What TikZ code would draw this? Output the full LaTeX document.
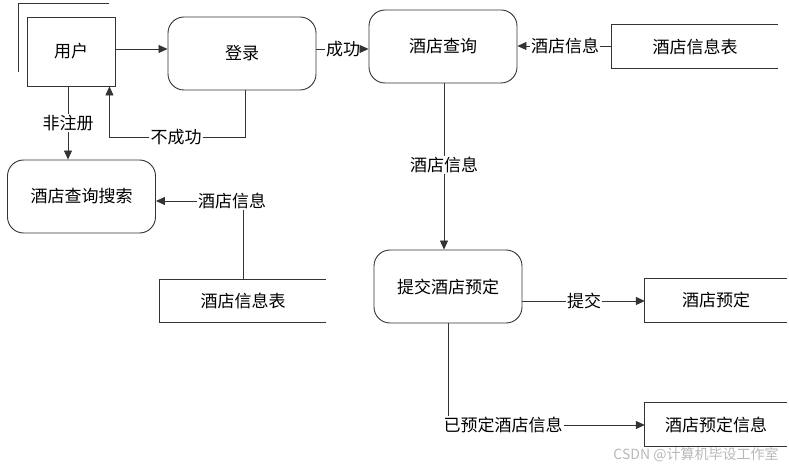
\documentclass[tikz,border=0pt]{standalone}
\usepackage{fontspec}
\setmainfont{Noto Sans CJK SC}
\usepackage{tikz}
\usetikzlibrary{arrows.meta,positioning}
\definecolor{dfline}{HTML}{333333}
\definecolor{dfwm}{HTML}{B8B8B8}
\tikzset{
  ent/.style  = {rectangle, draw=dfline, line width=0.9pt, minimum width=88pt,
                 minimum height=69pt, inner sep=0pt},
  proc/.style = {rectangle, rounded corners=16pt, draw=dfline, line width=0.9pt,
                 minimum width=148pt, minimum height=73pt, inner sep=0pt},
  dstore/.style = {rectangle, minimum height=43pt, inner sep=0pt},
  ed/.style   = {-{Triangle[length=9pt,width=8pt]}, draw=dfline, line width=0.8pt},
  ln/.style   = {draw=dfline, line width=0.8pt},
  lbl/.style  = {fill=white, inner sep=1pt},
}
\begin{document}
\begin{tikzpicture}[x=1pt,y=-1pt, every node/.style={font=\fontsize{17}{19}\selectfont}]
  \useasboundingbox (0,0) rectangle (789,470);
  \node[ent] (user) at (71,51.5) {用户};
  \draw[ln] (18,72) -- (18,3) -- (109,3);
  \node[proc] (login) at (242,53.5) {登录};
  \node[proc] (query) at (443,46.5) {酒店查询};
  \node[proc] (search) at (81.5,196.5) {酒店查询搜索};
  \node[proc] (submit) at (448,286.5) {提交酒店预定};
  \node[dstore,minimum width=166pt] (hinfo) at (695,46.5) {酒店信息表};
  \node[dstore,minimum width=166pt] (hinfo2) at (243,301) {酒店信息表};
  \node[dstore,minimum width=142pt] (book) at (716,300.5) {酒店预定};
  \node[dstore,minimum width=142pt] (bookinfo) at (716,424.5) {酒店预定信息};
  \foreach \s in {hinfo,hinfo2,book,bookinfo}
    \draw[ln] (\s.north east) -- (\s.north west) -- (\s.south west) -- (\s.south east);
  \node[lbl] (succ) at (343,49) {成功};
  \node[lbl] (fail) at (176,137) {不成功};
  \node[lbl] (nonreg) at (68,123) {非注册};
  \node[lbl] (info1) at (565,46) {酒店信息};
  \node[lbl] (info2) at (444,165) {酒店信息};
  \node[lbl] (info3) at (232,201) {酒店信息};
  \node[lbl] (give) at (584,301) {提交};
  \node[lbl] (booked) at (503,425) {已预定酒店信息};
  \draw[ed] (user.east |- 0,49) -- (login.west |- 0,49);
  \draw[ln] (succ) -- (succ -| login.east);
  \draw[ed] (succ) -- (succ -| query.west);
  \draw[ln] (hinfo.west |- info1) -- (info1);
  \draw[ed] (info1) -- (info1 -| query.east);
  \draw[ln] (info2 |- query.south) -- (info2);
  \draw[ed] (info2) -- (info2 |- submit.north);
  \draw[ln] ([xshift=3pt]login.south) |- (fail);
  \draw[ed] (fail) -| ([xshift=-6pt]user.south east);
  \draw[ln] (nonreg |- user.south) -- (nonreg);
  \draw[ed] (nonreg) -- (nonreg |- search.north);
  \draw[ln] (hinfo2.north) -- (hinfo2.north |- info3.south);
  \draw[ed] (info3) -- (info3 -| search.east);
  \draw[ln] (give) -- (give -| submit.east);
  \draw[ed] (give) -- (give -| book.west);
  \draw[ln] (submit.south) -- (submit.south |- booked.north);
  \draw[ed] (booked) -- (booked -| bookinfo.west);
  \node[text=dfwm, font=\fontsize{14}{16}\selectfont] (wm) at (696,455) {CSDN @计算机毕设工作室};
\end{tikzpicture}
\end{document}
